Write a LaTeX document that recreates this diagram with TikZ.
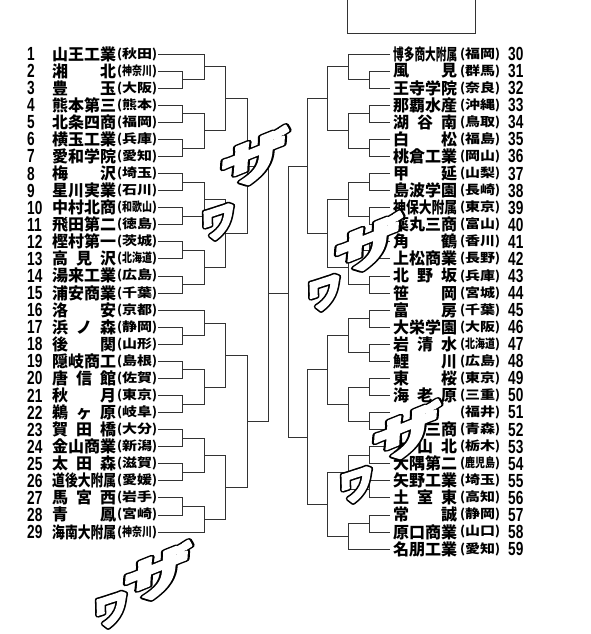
\documentclass[tikz,border=0pt]{standalone}
\usepackage{fontspec}
\usepackage{graphicx}
\usetikzlibrary{calc}
\newfontfamily\jp{Noto Sans CJK JP}
\newfontfamily\jpsl{Noto Sans CJK JP}[FakeSlant=0.3]
\newfontfamily\numf{Liberation Sans}
\newcommand\pref[1]{(\resizebox{30pt}{\height}{#1})}
\newcommand\nA[1]{\resizebox{64pt}{\height}{#1}}
\newcommand\nB[2]{\makebox[64pt]{#1\hfill #2}}
\newcommand\nC[3]{\makebox[64pt]{#1\hfill #2\hfill #3}}
\newcommand\lteam[3]{%
  \pgfmathsetmacro\yy{54+(#1-1)*17.07}%
  \node[num] (n#1) at (27,\yy) {\scalebox{0.72}[1]{#1}};
  \node[nm] (nm#1) at (52,\yy) {#2};
  \node[pf] (pf#1) at (117,\yy) {\pref{#3}};
  \coordinate (t#1) at (158,\yy);}
\newcommand\rteam[3]{%
  \pgfmathsetmacro\yy{54+(#1-30)*17.07}%
  \node[nm] (nm#1) at (393,\yy) {#2};
  \node[pf] (pf#1) at (460,\yy) {\pref{#3}};
  \node[num] (n#1) at (508,\yy) {\scalebox{0.72}[1]{#1}};
  \coordinate (t#1) at (390,\yy);}
\newcommand\mt[4]{%
  \draw[br] (#1) -- (#1 -| #3) -- (#2 -| #3) -- (#2);
  \coordinate (#4) at ($(#1 -| #3)!0.5!(#2 -| #3)$);}
% outlined lettering: a thick black stroke under a thinner white stroke
\newcommand\blk[1]{\special{pdf:literal direct 2 Tr 0 g 0 G 5.2 w 1 j}#1\special{pdf:literal direct 0 Tr 0 g 0 G 0.4 w 0 j}}
\newcommand\wht[1]{\special{pdf:literal direct 2 Tr 1 g 1 G 2 w 1 j}#1\special{pdf:literal direct 0 Tr 0 g 0 G 0.4 w 0 j}}
\newcommand\sfx[4]{%
  \node[#3] at (#2) {\blk{#4}};
  \node[#3] (#1) at (#2) {\wht{#4}};}
\tikzset{
  nm/.style={inner sep=0, anchor=west, font=\jp\bfseries\fontsize{16}{16}\selectfont},
  pf/.style={inner sep=0, anchor=west, font=\jp\bfseries\fontsize{12.5}{12.5}\selectfont},
  num/.style={inner sep=0, anchor=west, font=\numf\bfseries\fontsize{19}{19}\selectfont},
  br/.style={line width=0.7pt, black!80},
  za/.style={inner sep=0, font=\jpsl\bfseries\fontsize{50}{50}\selectfont},
  wa/.style={inner sep=0, font=\jpsl\bfseries\fontsize{36}{36}\selectfont}
}
\newcommand\zatxt{\rotatebox{22}{\scalebox{1.45}[0.9]{ザ}}}
\newcommand\watxt{\rotatebox{18}{ワ}}
\begin{document}
\begin{tikzpicture}[x=1pt,y=-1pt]
\fill[white] (0,0) rectangle (591,634);
\useasboundingbox (0,0) rectangle (591,634);
\draw[br] (347,-5) -- (347,33) -- (475,33) -- (475,-5);
\coordinate (L1) at (182,0); \coordinate (L2) at (204,0); \coordinate (L3) at (225,0);
\coordinate (L4) at (247,0); \coordinate (L5) at (268,0);
\coordinate (R1) at (369,0); \coordinate (R2) at (348,0); \coordinate (R3) at (327,0);
\coordinate (R4) at (307.5,0); \coordinate (R5) at (288,0);
% left teams
\lteam{1}{\nA{山王工業}}{秋田}
\lteam{2}{\nB{湘}{北}}{神奈川}
\lteam{3}{\nB{豊}{玉}}{大阪}
\lteam{4}{\nA{熊本第三}}{熊本}
\lteam{5}{\nA{北条四商}}{福岡}
\lteam{6}{\nA{横玉工業}}{兵庫}
\lteam{7}{\nA{愛和学院}}{愛知}
\lteam{8}{\nB{梅}{沢}}{埼玉}
\lteam{9}{\nA{星川実業}}{石川}
\lteam{10}{\nA{中村北商}}{和歌山}
\lteam{11}{\nA{飛田第二}}{徳島}
\lteam{12}{\nA{樫村第一}}{茨城}
\lteam{13}{\nC{高}{見}{沢}}{北海道}
\lteam{14}{\nA{湯来工業}}{広島}
\lteam{15}{\nA{浦安商業}}{千葉}
\lteam{16}{\nB{洛}{安}}{京都}
\lteam{17}{\nC{浜}{ノ}{森}}{静岡}
\lteam{18}{\nB{後}{関}}{山形}
\lteam{19}{\nA{隠岐商工}}{島根}
\lteam{20}{\nC{唐}{信}{館}}{佐賀}
\lteam{21}{\nB{秋}{月}}{東京}
\lteam{22}{\nC{鵜}{ヶ}{原}}{岐阜}
\lteam{23}{\nC{賀}{田}{橋}}{大分}
\lteam{24}{\nA{金山商業}}{新潟}
\lteam{25}{\nC{太}{田}{森}}{滋賀}
\lteam{26}{\nA{道後大附属}}{愛媛}
\lteam{27}{\nC{馬}{宮}{西}}{岩手}
\lteam{28}{\nB{青}{鳳}}{宮崎}
\lteam{29}{\nA{海南大附属}}{神奈川}
% right teams
\rteam{30}{\nA{博多商大附属}}{福岡}
\rteam{31}{\nB{風}{見}}{群馬}
\rteam{32}{\nA{王寺学院}}{奈良}
\rteam{33}{\nA{那覇水産}}{沖縄}
\rteam{34}{\nC{湖}{谷}{南}}{鳥取}
\rteam{35}{\nB{白}{松}}{福島}
\rteam{36}{\nA{桃倉工業}}{岡山}
\rteam{37}{\nB{甲}{延}}{山梨}
\rteam{38}{\nA{島波学園}}{長崎}
\rteam{39}{\nA{神保大附属}}{東京}
\rteam{40}{\nA{薬丸三商}}{富山}
\rteam{41}{\nB{角}{鶴}}{香川}
\rteam{42}{\nA{上松商業}}{長野}
\rteam{43}{\nC{北}{野}{坂}}{兵庫}
\rteam{44}{\nB{笹}{岡}}{宮城}
\rteam{45}{\nB{富}{房}}{千葉}
\rteam{46}{\nA{大栄学園}}{大阪}
\rteam{47}{\nC{岩}{清}{水}}{北海道}
\rteam{48}{\nB{鯉}{川}}{広島}
\rteam{49}{\nB{東}{桜}}{東京}
\rteam{50}{\nC{海}{老}{原}}{三重}
\rteam{51}{\makebox[64pt][l]{\hspace{27pt}堀}}{福井}
\rteam{52}{\makebox[64pt][r]{三商}}{青森}
\rteam{53}{\nC{大}{山}{北}}{栃木}
\rteam{54}{\nA{大隅第二}}{鹿児島}
\rteam{55}{\nA{矢野工業}}{埼玉}
\rteam{56}{\nC{土}{室}{東}}{高知}
\rteam{57}{\nB{常}{誠}}{静岡}
\rteam{58}{\nA{原口商業}}{山口}
\rteam{59}{\nA{名朋工業}}{愛知}
% left bracket
\mt{t2}{t3}{L1}{a23}
\mt{t1}{a23}{L2}{a13}
\mt{t4}{t5}{L1}{a45}
\mt{t6}{t7}{L1}{a67}
\mt{a45}{a67}{L2}{a47}
\mt{a13}{a47}{L3}{a17}
\mt{t8}{t9}{L1}{a89}
\mt{t10}{t11}{L1}{a1011}
\mt{a89}{a1011}{L2}{a811}
\mt{t12}{t13}{L1}{a1213}
\mt{t14}{t15}{L1}{a1415}
\mt{a1213}{a1415}{L2}{a1215}
\mt{a811}{a1215}{L3}{a815}
\mt{a17}{a815}{L4}{a115}
\mt{t17}{t18}{L1}{a1718}
\mt{t16}{a1718}{L2}{a1618}
\mt{t19}{t20}{L1}{a1920}
\mt{t21}{t22}{L1}{a2122}
\mt{a1920}{a2122}{L2}{a1922}
\mt{a1618}{a1922}{L3}{a1622}
\mt{t23}{t24}{L1}{a2324}
\mt{t25}{t26}{L1}{a2526}
\mt{a2324}{a2526}{L2}{a2326}
\mt{t27}{t28}{L1}{a2728}
\mt{a2728}{t29}{L2}{a2729}
\mt{a2326}{a2729}{L3}{a2329}
\mt{a1622}{a2329}{L4}{a1629}
\mt{a115}{a1629}{L5}{lw}
% right bracket
\mt{t31}{t32}{R1}{b3132}
\mt{t30}{b3132}{R2}{b3032}
\mt{t33}{t34}{R1}{b3334}
\mt{t35}{t36}{R1}{b3536}
\mt{b3334}{b3536}{R2}{b3336}
\mt{b3032}{b3336}{R3}{b3036}
\mt{t37}{t38}{R1}{b3738}
\mt{t39}{t40}{R1}{b3940}
\mt{b3738}{b3940}{R2}{b3740}
\mt{t41}{t42}{R1}{b4142}
\mt{t43}{t44}{R1}{b4344}
\mt{b4142}{b4344}{R2}{b4144}
\mt{b3740}{b4144}{R3}{b3744}
\mt{b3036}{b3744}{R4}{b3044}
\mt{t45}{t46}{R1}{b4546}
\mt{t47}{t48}{R1}{b4748}
\mt{b4546}{b4748}{R2}{b4548}
\mt{t49}{t50}{R1}{b4950}
\mt{t51}{t52}{R1}{b5152}
\mt{b4950}{b5152}{R2}{b4952}
\mt{b4548}{b4952}{R3}{b4552}
\mt{t53}{t54}{R1}{b5354}
\mt{t55}{t56}{R1}{b5556}
\mt{b5354}{b5556}{R2}{b5356}
\mt{t57}{t58}{R1}{b5758}
\mt{b5758}{t59}{R2}{b5759}
\mt{b5356}{b5759}{R3}{b5359}
\mt{b4552}{b5359}{R4}{b4559}
\mt{b3044}{b4559}{R5}{rw}
\draw[br] (lw) -- (lw -| rw);
% sound effects
\sfx{s1z}{247,163}{za}{\zatxt}
\sfx{s1w}{215,224}{wa}{\watxt}
\sfx{s2z}{361,249}{za}{\zatxt}
\sfx{s2w}{321,295}{wa}{\watxt}
\sfx{s3z}{399,437}{za}{\zatxt}
\sfx{s3w}{353,487}{wa}{\watxt}
\sfx{s4z}{150,578}{za}{\zatxt}
\sfx{s4w}{108,612}{wa}{\watxt}
\end{tikzpicture}
\end{document}
